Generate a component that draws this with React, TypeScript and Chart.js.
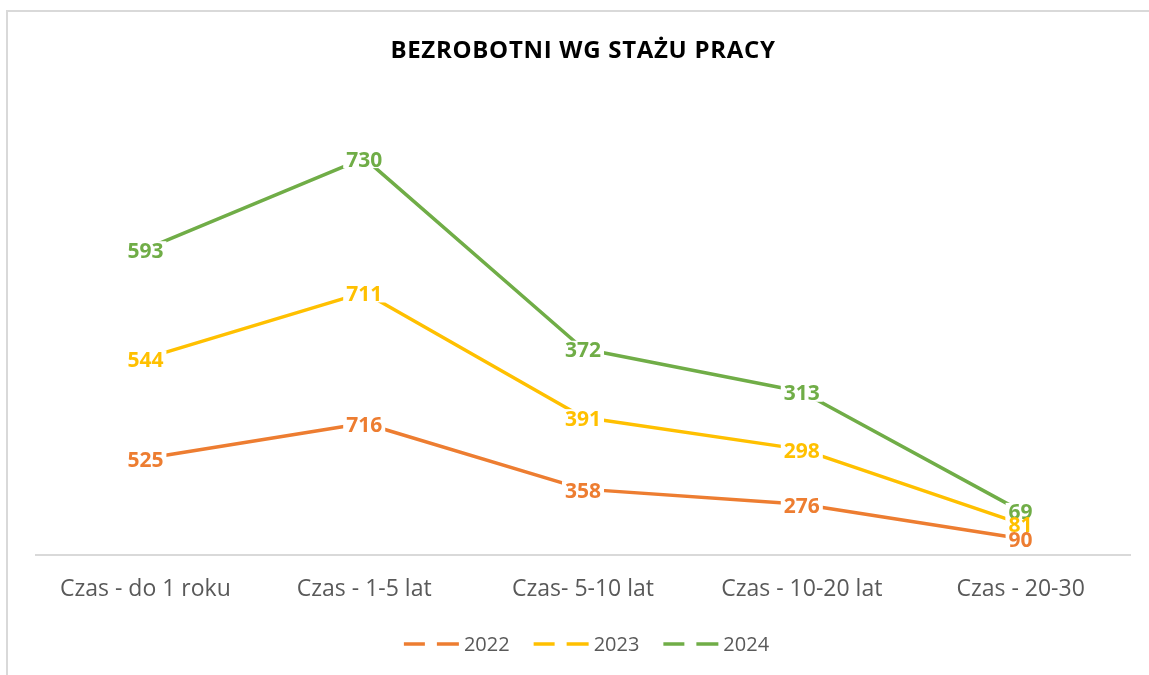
import React, { useEffect, useRef } from "react";
import { Chart, registerables } from "chart.js";

Chart.register(...registerables);

const CATEGORIES = ["Czas - do 1 roku", "Czas - 1-5 lat", "Czas- 5-10 lat", "Czas - 10-20 lat", "Czas - 20-30"];
const SERIES_2022 = [525, 716, 358, 276, 90];
const SERIES_2023 = [544, 711, 391, 298, 81];
const SERIES_2024 = [593, 730, 372, 313, 69];
const YEARS = ["2022", "2023", "2024"];
const COLORS = ["#ED7D31", "#FFC000", "#70AD47"];
const TITLE = "BEZROBOTNI WG STAŻU PRACY";

const FONT = "'Open Sans', Lato, sans-serif";

const decorPlugin = {
  id: "decor",
  afterDatasetsDraw(chart: any) {
    const ctx = chart.ctx;
    ctx.save();
    ctx.font = `bold 21px ${FONT}`;
    ctx.textAlign = "center";
    ctx.textBaseline = "alphabetic";
    const order = [2, 1, 0];
    // white backgrounds first, then all texts
    for (const di of order) {
      const meta = chart.getDatasetMeta(di);
      const ds = chart.data.datasets[di];
      meta.data.forEach((pt: any, i: number) => {
        const w = ctx.measureText(String(ds.data[i])).width;
        ctx.fillStyle = "#ffffff";
        ctx.fillRect(pt.x - w / 2 - 3, pt.y - 8, w + 6, 18);
      });
    }
    for (const di of order) {
      const meta = chart.getDatasetMeta(di);
      const ds = chart.data.datasets[di];
      meta.data.forEach((pt: any, i: number) => {
        ctx.fillStyle = COLORS[di];
        ctx.fillText(String(ds.data[i]), pt.x, pt.y + 8.5);
      });
    }
    ctx.restore();
  },
  afterDraw(chart: any) {
    const ctx = chart.ctx;
    ctx.save();
    // border
    ctx.strokeStyle = "#d9d9d9";
    ctx.lineWidth = 2;
    ctx.beginPath();
    ctx.moveTo(7, 676);
    ctx.lineTo(7, 11);
    ctx.lineTo(1150, 11);
    ctx.stroke();
    // title
    ctx.font = `bold 24px ${FONT}`;
    (ctx as any).letterSpacing = "0.7px";
    ctx.fillStyle = "#000000";
    ctx.textAlign = "center";
    ctx.textBaseline = "alphabetic";
    ctx.fillText(TITLE, 583, 58);
    (ctx as any).letterSpacing = "0px";
    // legend
    ctx.font = `20px ${FONT}`;
    const widths = YEARS.map((y) => ctx.measureText(y).width);
    const markerW = 55;
    const gapText = 5;
    const gapItem = 24;
    const total = widths.reduce((a, w) => a + markerW + gapText + w, 0) + gapItem * (YEARS.length - 1);
    let x = 586.5 - total / 2;
    const ly = 644;
    YEARS.forEach((y, i) => {
      ctx.strokeStyle = COLORS[i];
      ctx.lineWidth = 3.5;
      ctx.lineCap = "butt";
      ctx.beginPath();
      ctx.moveTo(x, ly);
      ctx.lineTo(x + 21, ly);
      ctx.moveTo(x + 33, ly);
      ctx.lineTo(x + markerW, ly);
      ctx.stroke();
      ctx.fillStyle = "#595959";
      ctx.textAlign = "left";
      ctx.textBaseline = "alphabetic";
      ctx.fillText(y, x + markerW + gapText, ly + 7.2);
      x += markerW + gapText + widths[i] + gapItem;
    });
    ctx.restore();
  },
};

export default function App() {
  const ref = useRef<HTMLCanvasElement | null>(null);
  useEffect(() => {
    if (!ref.current) return;
    const series = [SERIES_2022, SERIES_2023, SERIES_2024];
    const chart = new Chart(ref.current, {
      type: "line",
      data: {
        labels: CATEGORIES,
        datasets: series.map((d, i) => ({
          label: YEARS[i],
          data: d,
          borderColor: COLORS[i],
          backgroundColor: COLORS[i],
          borderWidth: 3.5,
          pointRadius: 0,
          pointHoverRadius: 0,
          fill: false,
          tension: 0,
          borderCapStyle: "round" as const,
          borderJoinStyle: "round" as const,
        })),
      },
      options: {
        responsive: false,
        animation: false,
        layout: { padding: { left: 36, right: 19, top: 95, bottom: 0 } },
        plugins: {
          legend: { display: false },
          title: { display: false },
          tooltip: { enabled: false },
        },
        scales: {
          x: {
            offset: true,
            grid: { display: false, drawTicks: false },
            border: { display: true, color: "#d9d9d9", width: 2 },
            ticks: {
              color: "#595959",
              font: { family: FONT, size: 23 },
              padding: 21,
              maxRotation: 0,
              autoSkip: false,
            },
            afterFit: (s: any) => {
              s.height = 675 - 555;
            },
          },
          y: {
            display: false,
            stacked: true,
            min: 0,
            max: 2500,
          },
        },
      },
      plugins: [decorPlugin],
    });
    return () => chart.destroy();
  }, []);
  return (
    <div style={{ position: "absolute", left: 0, top: 0, width: 1149, height: 675, background: "#fff" }}>
      <canvas ref={ref} width={1149} height={675} style={{ display: "block" }} />
    </div>
  );
}
